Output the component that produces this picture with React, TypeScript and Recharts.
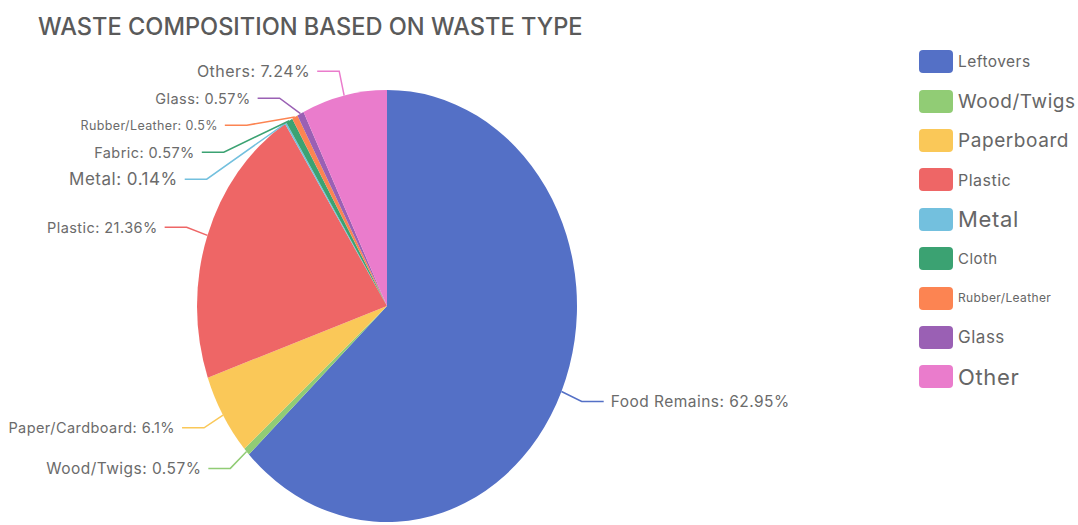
import React from 'react';
import { PieChart, Pie, Cell, Legend } from 'recharts';

// ---- data ----
const categories = ['Food Remains', 'Wood/Twigs', 'Paper/Cardboard', 'Plastic', 'Metal', 'Fabric', 'Rubber/Leather', 'Glass', 'Others'];
const shares = [62.95, 0.57, 6.1, 21.36, 0.14, 0.57, 0.5, 0.57, 7.24];
const legendLabels = ['Leftovers', 'Wood/Twigs', 'Paperboard', 'Plastic', 'Metal', 'Cloth', 'Rubber/Leather', 'Glass', 'Other'];
const title = 'WASTE COMPOSITION BASED ON WASTE TYPE';

// ---- styles ----
const colors = ['#5470c6', '#91cc75', '#fac858', '#ee6666', '#73c0de', '#3ba272', '#fc8452', '#9a60b4', '#ea7ccc'];
const labelFontSizes = [15.5, 15.5, 14.5, 14.5, 17, 14.5, 12.5, 14.5, 16];
const legendFontSizes = [15.5, 19, 19, 16, 22, 15, 12, 17, 22];

const W = 1078;
const H = 525;
const CX = 387;
const CY = 306;
const R = 190;
const K = 1.137; // vertical stretch of the pie
const EXT = 22;
const HLEN = 22;
const GAP = 7;
const SPACING = 27;
const FONT = 'Inter, "Noto Sans", sans-serif';

const data = categories.map((name, i) => ({ name, value: shares[i] }));

function computeLayout(cx: number, cy: number, r: number) {
  const total = shares.reduce((a, b) => a + b, 0);
  let acc = 0;
  const rx = r + EXT;
  const ry = (r + EXT) * K;
  const items = shares.map((v, i) => {
    const start = 90 - (acc / total) * 360;
    acc += v;
    const end = 90 - (acc / total) * 360;
    const mid = ((start + end) / 2) * Math.PI / 180;
    const side = Math.cos(mid) < 0 ? -1 : 1;
    return { i, side, ey: cy - ry * Math.sin(mid), ex: 0 };
  });
  [-1, 1].forEach((side) => {
    const group = items.filter((it) => it.side === side).sort((a, b) => a.ey - b.ey);
    for (let j = 1; j < group.length; j++) {
      if (group[j].ey < group[j - 1].ey + SPACING) group[j].ey = group[j - 1].ey + SPACING;
    }
  });
  items.forEach((it) => {
    const t = (it.ey - cy) / ry;
    it.ex = cx + it.side * rx * Math.sqrt(Math.max(0, 1 - t * t));
  });
  return items;
}

const renderLabel = (props: any) => {
  const { cx, cy, midAngle, outerRadius, index, name, value } = props;
  const layout = computeLayout(cx, cy, outerRadius);
  const it = layout[index];
  const a = (midAngle * Math.PI) / 180;
  const ax = cx + outerRadius * Math.cos(a);
  const ay = cy - outerRadius * K * Math.sin(a);
  const lx = it.ex + it.side * HLEN;
  const color = colors[index];
  return (
    <g key={`lbl-${index}`}>
      <path d={`M${ax},${ay}L${it.ex},${it.ey}L${lx},${it.ey}`} stroke={color} strokeWidth={1.5} fill="none" />
      <text
        x={lx + it.side * GAP}
        y={it.ey}
        textAnchor={it.side < 0 ? 'end' : 'start'}
        dominantBaseline="central"
        fill="#6b6b6b"
        fontSize={labelFontSizes[index]}
        fontFamily={FONT}
        letterSpacing="0.03em"
      >
        {`${name}: ${value}%`}
      </text>
    </g>
  );
};

const renderLegend = (props: any) => {
  const payload = props.payload || [];
  return (
    <div style={{ display: 'flex', flexDirection: 'column', fontFamily: FONT }}>
      {payload.map((entry: any, i: number) => (
        <div key={i} style={{ display: 'flex', alignItems: 'center', height: 39.4 }}>
          <div style={{ width: 34, height: 23, borderRadius: 4, background: colors[i], marginRight: 5, flexShrink: 0 }} />
          <span
            style={{
              fontSize: legendFontSizes[i],
              color: '#666',
              lineHeight: 1,
              whiteSpace: 'nowrap',
              letterSpacing: '0.03em',
            }}
          >
            {legendLabels[i]}
          </span>
        </div>
      ))}
    </div>
  );
};

export default function App() {
  const css = `.ellipse-pie path.recharts-sector { transform-origin: ${CX}px ${CY}px; transform: scaleY(${K}); }`;
  return (
    <div style={{ position: 'absolute', left: 0, top: 0, width: W, height: H, background: '#fff', overflow: 'hidden' }}>
      <style>{css}</style>
      <div
        style={{
          position: 'absolute',
          left: 38,
          top: 12,
          fontFamily: FONT,
          fontSize: 23.6,
          fontWeight: 500,
          color: '#5a5a5a',
          whiteSpace: 'nowrap',
          zIndex: 2,
        }}
      >
        {title}
      </div>
      <div className="ellipse-pie" style={{ position: 'absolute', left: 0, top: 0 }}>
        <PieChart width={W} height={H} margin={{ top: 0, right: 0, bottom: 0, left: 0 }}>
          <Pie
            data={data}
            dataKey="value"
            nameKey="name"
            cx={CX}
            cy={CY}
            outerRadius={R}
            startAngle={90}
            endAngle={-270}
            stroke="none"
            label={renderLabel}
            labelLine={false}
            isAnimationActive={false}
          >
            {data.map((d, i) => (
              <Cell key={d.name} fill={colors[i]} />
            ))}
          </Pie>
          <Legend
            layout="vertical"
            align="right"
            verticalAlign="top"
            content={renderLegend}
            wrapperStyle={{ position: 'absolute', left: 919, top: 42, width: 159 }}
          />
        </PieChart>
      </div>
    </div>
  );
}
